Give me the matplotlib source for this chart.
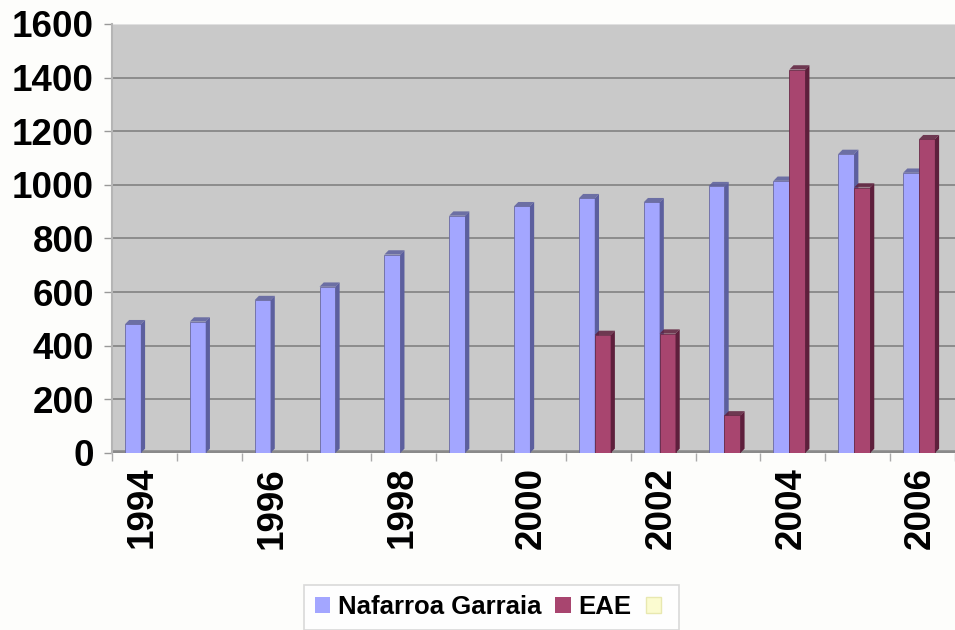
import numpy as np
import matplotlib.pyplot as plt
from matplotlib.patches import Polygon, Patch

years = list(range(1994, 2007))
nafarroa = [480, 490, 570, 620, 740, 885, 920, 950, 935, 995, 1015, 1115, 1045]
eae = [0, 0, 0, 0, 0, 0, 0, 440, 445, 140, 1430, 990, 1170]

blue, blue_side = '#a3a6ff', '#5c5f9e'
maroon, maroon_side = '#a8456f', '#5e1f3c'

plt.rcParams['font.family'] = ['Liberation Sans', 'DejaVu Sans']
plt.rcParams['font.weight'] = 'bold'

fig = plt.figure(figsize=(9.55, 6.3), dpi=100)
fig.patch.set_facecolor('#fdfdfb')
ax = fig.add_axes([0.1173, 0.281, 0.8827, 0.681])
ax.set_facecolor('#c9c9c9')

x = np.arange(len(years))
width = 0.245
dx, dy = 0.065, 16  # depth of the fake 3d faces


def bar3d(left, h, face, side):
    if h <= 0:
        return
    right = left + width
    ax.add_patch(Polygon([(left, 0), (right, 0), (right, h), (left, h)],
                         closed=True, fc=face, ec='#6a6aa0' if face == blue else '#6a2a48', lw=0.6, zorder=3))
    ax.add_patch(Polygon([(right, 0), (right + dx, dy), (right + dx, h + dy), (right, h)],
                         closed=True, fc=side, ec='none', zorder=3))
    ax.add_patch(Polygon([(left, h), (left + dx, h + dy), (right + dx, h + dy), (right, h)],
                         closed=True, fc=side, ec='none', zorder=3, alpha=0.85))


for i in x:
    bar3d(i - 0.37, nafarroa[i], blue, blue_side)
    bar3d(i - 0.125, eae[i], maroon, maroon_side)

ax.set_xlim(-0.5, 12.35)
ax.set_ylim(0, 1600)
ax.set_yticks(range(0, 1601, 200))
ax.yaxis.grid(True, color='#8c8c8c', lw=1.4)
ax.set_axisbelow(True)
ax.axhline(0, color='#8a8a8a', lw=4, zorder=2)

ax.set_xticks(x[::2] - 0.1)
ax.set_xticklabels([str(y) for y in years[::2]], rotation=90)
ax.set_xticks(np.arange(-0.5, 12.6, 1) - 0.07, minor=True)
ax.tick_params(axis='x', which='major', length=0, pad=10, labelsize=26.5)
ax.tick_params(axis='x', which='minor', length=6, color='#aaaaaa', width=1)
ax.tick_params(axis='y', length=6, color='#999999', width=1, labelsize=26.5, pad=7)

for side in ['top', 'right', 'bottom']:
    ax.spines[side].set_visible(False)
ax.spines['left'].set_color('#b5b5b5')
ax.spines['left'].set_linewidth(1.5)
ax.axhline(1600, color='#e0e0e0', lw=1.5)

handles = [Patch(fc=blue, ec='none'), Patch(fc=maroon, ec='none'),
           Patch(fc='#fbfbd0', ec='#e8e8b0')]
leg = fig.legend(handles, ['Nafarroa Garraia', 'EAE', ''], loc='center',
                 bbox_to_anchor=(0.515, 0.036), ncol=3, fontsize=18.5,
                 frameon=True, fancybox=False, handlelength=0.6, handleheight=0.6,
                 handletextpad=0.3, columnspacing=0.55, borderpad=0.4)
leg.get_frame().set_edgecolor('#d0d0d0')
leg.get_frame().set_linewidth(1.2)

fig.savefig('out.png', dpi=100, facecolor=fig.get_facecolor())
